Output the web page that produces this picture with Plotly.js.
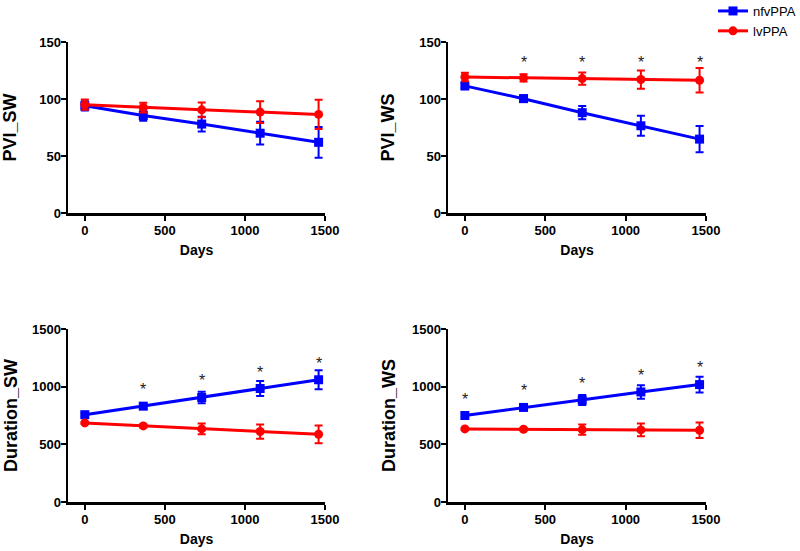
<!DOCTYPE html>
<html>
<head>
<meta charset="utf-8">
<script src="https://cdn.plot.ly/plotly-3.0.1.min.js"></script>
<style>html,body{margin:0;padding:0;background:#fff;}#chart{width:800px;height:551px;}</style>
</head>
<body>
<div id="chart"></div>
<script>
// ---- data ----
const days = [0, 365, 730, 1095, 1460];

const pviSW_nfv = [94, 85.5, 78, 70, 62];
const pviSW_nfv_err = [4, 4.5, 6.5, 10, 13.5];
const pviSW_lv = [95, 92.5, 90.5, 88.5, 86.5];
const pviSW_lv_err = [4.5, 4.3, 6.5, 9.5, 12.8];

const pviWS_nfv = [111.5, 100.3, 88, 76.5, 64.8];
const pviWS_nfv_err = [3, 3, 5.8, 8.8, 11.5];
const pviWS_lv = [119.3, 118.5, 117.9, 117.1, 116.4];
const pviWS_lv_err = [3.7, 3.2, 5.3, 8, 10.8];
const pviWS_sigX = [365, 730, 1095, 1460];
const pviWS_sigY = [132, 132, 132, 132];

const durSW_nfv = [757, 831, 906, 984, 1060];
const durSW_nfv_err = [15, 25, 49, 65, 82];
const durSW_lv = [686, 660, 634, 611, 587];
const durSW_lv_err = [10, 15, 46, 62, 77];
const durSW_sigX = [365, 730, 1095, 1460];
const durSW_sigY = [972, 1052, 1125, 1202];

const durWS_nfv = [750, 820, 884, 954, 1018];
const durWS_nfv_err = [15, 20, 44, 58, 68];
const durWS_lv = [634, 631, 628, 625, 622];
const durWS_lv_err = [10, 10, 44, 55, 68];
const durWS_sigX = [0, 365, 730, 1095, 1460];
const durWS_sigY = [892, 964, 1031, 1098, 1168];

const xTicks = [0, 500, 1000, 1500];
const seriesNames = ['nfvPPA', 'lvPPA'];

// ---- styling ----
const BLUE = '#0000ff', RED = '#ff0000';
const FONT = 'Liberation Sans, Arial, sans-serif';

function pair(xa, ya, nfv, nfvErr, lv, lvErr, showLegend) {
  return [
    {x: days, y: nfv, xaxis: xa, yaxis: ya, type: 'scatter', mode: 'lines+markers',
     name: seriesNames[0], legendgroup: 'a', showlegend: showLegend,
     line: {color: BLUE, width: 3}, marker: {symbol: 'square', size: 9, color: BLUE},
     error_y: {type: 'data', array: nfvErr, visible: true, color: BLUE, thickness: 2, width: 4}},
    {x: days, y: lv, xaxis: xa, yaxis: ya, type: 'scatter', mode: 'lines+markers',
     name: seriesNames[1], legendgroup: 'b', showlegend: showLegend,
     line: {color: RED, width: 3}, marker: {symbol: 'circle', size: 9, color: RED},
     error_y: {type: 'data', array: lvErr, visible: true, color: RED, thickness: 2, width: 4}}
  ];
}

const data = [].concat(
  pair('x', 'y', pviSW_nfv, pviSW_nfv_err, pviSW_lv, pviSW_lv_err, true),
  pair('x2', 'y2', pviWS_nfv, pviWS_nfv_err, pviWS_lv, pviWS_lv_err, false),
  pair('x3', 'y3', durSW_nfv, durSW_nfv_err, durSW_lv, durSW_lv_err, false),
  pair('x4', 'y4', durWS_nfv, durWS_nfv_err, durWS_lv, durWS_lv_err, false)
);

const W = 800, H = 551;
function xdom(a, b) { return [a / W, b / W]; }
function ydom(top, bottom) { return [1 - bottom / H, 1 - top / H]; }

function xaxis(dom, anchor) {
  return {domain: dom, anchor: anchor, range: [-105, 1500], tickvals: xTicks,
    showgrid: false, zeroline: false, showline: true, linecolor: '#000', linewidth: 2.5,
    ticks: 'outside', ticklen: 5, tickwidth: 2, tickcolor: '#000', ticklabelstandoff: -1,
    tickfont: {family: FONT, size: 13, weight: 'bold', color: '#000'},
    title: {text: 'Days', font: {family: FONT, size: 14, weight: 'bold', color: '#000'}, standoff: 8}};
}
function yaxis(dom, anchor, range, dtick, title, standoff) {
  return {domain: dom, anchor: anchor, range: range, dtick: dtick, tick0: 0,
    showgrid: false, zeroline: false, showline: true, linecolor: '#000', linewidth: 2.5,
    ticks: 'outside', ticklen: 5, tickwidth: 2, tickcolor: '#000', ticklabelstandoff: -3,
    tickfont: {family: FONT, size: 13, weight: 'bold', color: '#000'},
    title: {text: title, font: {family: FONT, size: 18, weight: 'bold', color: '#000'}, standoff: standoff}};
}

const annotations = [];
function stars(xs, ys, xr, yr) {
  for (let i = 0; i < xs.length; i++) {
    annotations.push({x: xs[i], y: ys[i], xref: xr, yref: yr, text: '*', showarrow: false,
      font: {family: FONT, size: 16, color: '#222'}, xanchor: 'center', yanchor: 'middle'});
  }
}
stars(pviWS_sigX, pviWS_sigY, 'x2', 'y2');
stars(durSW_sigX, durSW_sigY, 'x3', 'y3');
stars(durWS_sigX, durWS_sigY, 'x4', 'y4');

const layout = {
  width: W, height: H,
  margin: {l: 0, r: 0, t: 0, b: 0, autoexpand: false},
  paper_bgcolor: '#fff', plot_bgcolor: 'rgba(0,0,0,0)',
  font: {family: FONT, color: '#000'},
  showlegend: true,
  legend: {x: 713 / W, y: 1 + 4 / H, xanchor: 'left', yanchor: 'top',
    bgcolor: 'rgba(0,0,0,0)', font: {family: FONT, size: 13, color: '#000'},
    tracegroupgap: 0},
  xaxis: xaxis(xdom(68, 325), 'y'),
  yaxis: yaxis(ydom(42, 213), 'x', [0, 150], 50, 'PVI_SW', 20),
  xaxis2: xaxis(xdom(448, 706), 'y2'),
  yaxis2: yaxis(ydom(42, 213), 'x2', [0, 150], 50, 'PVI_WS', 20),
  xaxis3: xaxis(xdom(68, 325), 'y3'),
  yaxis3: yaxis(ydom(329, 502), 'x3', [0, 1500], 500, 'Duration_SW', 10),
  xaxis4: xaxis(xdom(448, 706), 'y4'),
  yaxis4: yaxis(ydom(329, 502), 'x4', [0, 1500], 500, 'Duration_WS', 12),
  annotations: annotations
};

Plotly.newPlot('chart', data, layout, {displayModeBar: false, staticPlot: true});
</script>
</body>
</html>
